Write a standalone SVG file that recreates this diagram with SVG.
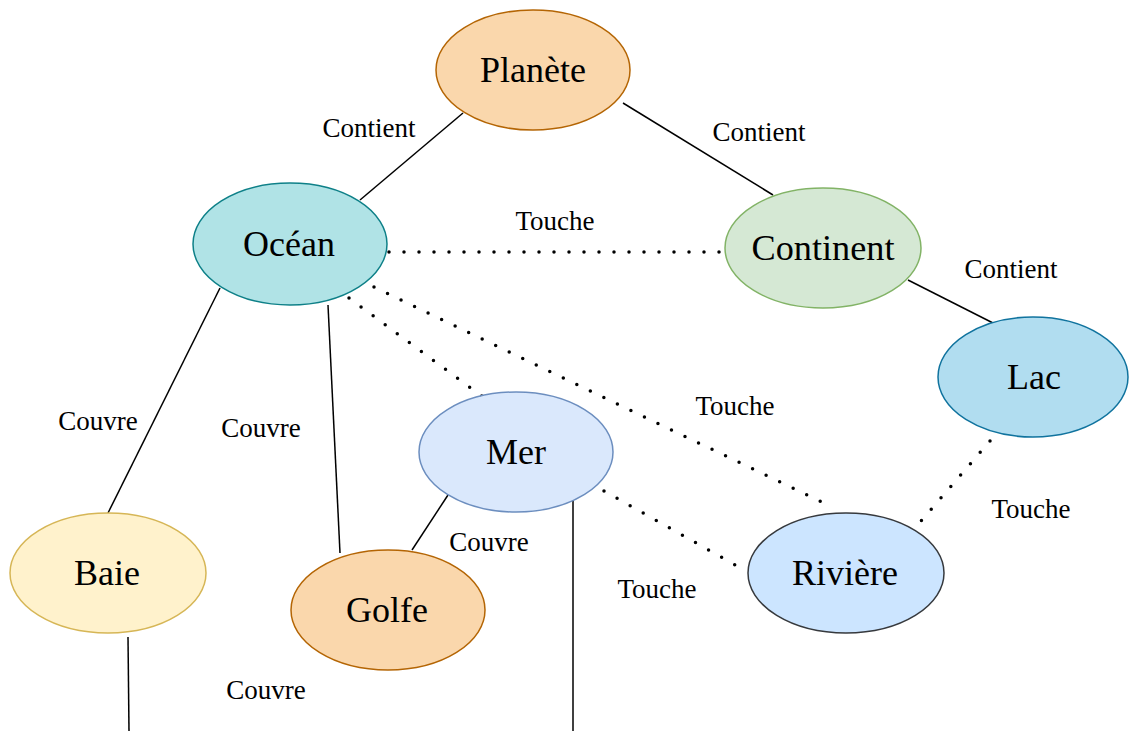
<svg xmlns="http://www.w3.org/2000/svg" width="1129" height="731" viewBox="0 0 1129 731">
<style>
.n{stroke-width:1.5}
.t{font-family:"Liberation Serif","Times New Roman",serif;font-size:36px;text-anchor:middle;fill:#000}
.l{font-family:"Liberation Serif","Times New Roman",serif;font-size:27px;text-anchor:middle;fill:#000}
.s{stroke:#000;stroke-width:1.5;fill:none}
.d{stroke:#000;stroke-width:3.5;fill:none;stroke-linecap:round;stroke-dasharray:0 15}
</style>
<rect width="1129" height="731" fill="#fff"/>
<g id="connectors">
<line class="s" x1="463" y1="113" x2="360" y2="200"/>
<line class="s" x1="623" y1="103" x2="773" y2="195"/>
<line class="s" x1="908" y1="280" x2="993" y2="323"/>
<line class="s" x1="220" y1="288" x2="108" y2="513"/>
<line class="s" x1="328" y1="305" x2="340" y2="553"/>
<line class="s" x1="448" y1="495" x2="412" y2="550"/>
<line class="s" x1="573" y1="498" x2="573" y2="731"/>
<line class="s" x1="128" y1="637" x2="129" y2="731"/>
<line class="d" x1="389" y1="252" x2="733" y2="252"/>
<line class="d" x1="349" y1="298" x2="483" y2="397"/>
<line class="d" x1="374" y1="287" x2="832" y2="507"/>
<line class="d" x1="990" y1="441" x2="915" y2="528"/>
<line class="d" x1="604" y1="491" x2="746" y2="571"/>
<text class="l" x="369" y="137">Contient</text>
<text class="l" x="759" y="141">Contient</text>
<text class="l" x="1011" y="278">Contient</text>
<text class="l" x="555" y="230">Touche</text>
<text class="l" x="735" y="415">Touche</text>
<text class="l" x="1031" y="518">Touche</text>
<text class="l" x="657" y="598">Touche</text>
<text class="l" x="98" y="430">Couvre</text>
<text class="l" x="261" y="437">Couvre</text>
<text class="l" x="489" y="551">Couvre</text>
<text class="l" x="266" y="699">Couvre</text>
</g>
<g id="planete"><ellipse class="n" cx="533" cy="70" rx="97" ry="60" fill="#fad7ac" stroke="#b46504"/><text class="t" x="533" y="82">Planète</text></g>
<g id="ocean"><ellipse class="n" cx="290" cy="244" rx="97" ry="61" fill="#b0e3e6" stroke="#0e8088"/><text class="t" x="289" y="256">Océan</text></g>
<g id="continent"><ellipse class="n" cx="823" cy="248" rx="98" ry="60" fill="#d5e8d4" stroke="#82b366"/><text class="t" x="823" y="260" textLength="143" lengthAdjust="spacingAndGlyphs">Continent</text></g>
<g id="lac"><ellipse class="n" cx="1033" cy="377" rx="95" ry="60" fill="#b1ddf0" stroke="#10739e"/><text class="t" x="1034" y="389">Lac</text></g>
<g id="mer"><ellipse class="n" cx="516" cy="452" rx="97" ry="60" fill="#dae8fc" stroke="#6c8ebf"/><text class="t" x="516" y="464">Mer</text></g>
<g id="riviere"><ellipse class="n" cx="846" cy="573" rx="98" ry="60" fill="#cce5ff" stroke="#36393d"/><text class="t" x="845" y="585">Rivière</text></g>
<g id="baie"><ellipse class="n" cx="108" cy="573" rx="98" ry="60" fill="#fff2cc" stroke="#d6b656"/><text class="t" x="107" y="585">Baie</text></g>
<g id="golfe"><ellipse class="n" cx="388" cy="610" rx="97" ry="60" fill="#fad7ac" stroke="#b46504"/><text class="t" x="387" y="622">Golfe</text></g>
</svg>
